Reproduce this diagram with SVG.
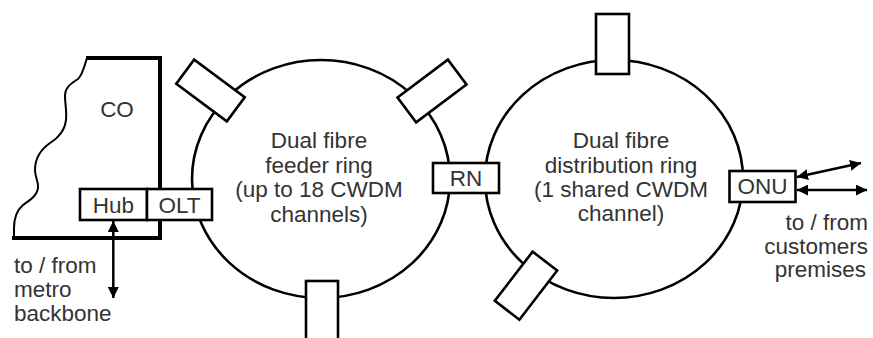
<svg xmlns="http://www.w3.org/2000/svg" width="873" height="338" viewBox="0 0 873 338">
<style>
.ring{fill:none;stroke:#000;stroke-width:2.6}
.box{fill:#fff;stroke:#000;stroke-width:2.6}
.t{font-family:"Liberation Sans",Arial,sans-serif;font-size:22.5px;fill:#333}
.c{text-anchor:middle}
.e{text-anchor:end}
.arr{fill:none;stroke:#000;stroke-width:2.5;marker-start:url(#ah);marker-end:url(#ah)}
</style>
<defs>
<marker id="ah" markerUnits="userSpaceOnUse" markerWidth="12" markerHeight="11" refX="11" refY="5.5" orient="auto-start-reverse">
<path d="M0,0 L11,5.5 L0,11 z" fill="#000"/>
</marker>
</defs>
<rect width="873" height="338" fill="#fff"/>

<g id="co">
<path d="M87,58 C84,68 82,76 78,79 C70,84 65,88 65,96 C65,104 67,112 66,120 C65,130 58,138 50,143 C40,150 35,158 35,170 C35,178 39,182 38,188 C37,196 30,200 23,205 C16,211 14,218 14,228 L14,238" fill="none" stroke="#000" stroke-width="2"/>
<path d="M86,58 H160 V238 H12" fill="none" stroke="#000" stroke-width="4"/>
<text class="t c" x="117" y="117">CO</text>
</g>

<g id="feeder-ring">
<ellipse class="ring" cx="321" cy="179" rx="129" ry="119"/>
<text class="t c" x="319" y="148">Dual fibre</text>
<text class="t c" x="319" y="172.5">feeder ring</text>
<text class="t c" x="319" y="197">(up to 18 CWDM</text>
<text class="t c" x="319" y="221.5">channels)</text>
</g>

<g id="distribution-ring">
<ellipse class="ring" cx="614" cy="179" rx="129" ry="119"/>
<text class="t c" x="621" y="148">Dual fibre</text>
<text class="t c" x="621" y="172.5">distribution ring</text>
<text class="t c" x="621" y="197">(1 shared CWDM</text>
<text class="t c" x="621" y="221">channel)</text>
</g>

<g id="node-feeder-upper-left">
<rect class="box" x="-31.5" y="-15" width="63" height="30" transform="translate(210.5,90.5) rotate(36.6)"/>
</g>
<g id="node-feeder-upper-right">
<rect class="box" x="-31.5" y="-15.5" width="63" height="31" transform="translate(432,91) rotate(-36.9)"/>
</g>
<g id="node-feeder-bottom">
<rect class="box" x="306" y="281" width="32" height="62"/>
</g>
<g id="node-dist-top">
<rect class="box" x="596" y="14" width="33" height="60"/>
</g>
<g id="node-dist-bottom-left">
<rect class="box" x="-31" y="-15.5" width="62" height="31" transform="translate(526,285.7) rotate(-52.4)"/>
</g>

<g id="hub">
<rect class="box" x="80" y="189" width="67" height="31"/>
<text class="t c" x="113.5" y="212.5">Hub</text>
</g>
<g id="olt">
<rect class="box" x="147" y="189" width="65" height="31"/>
<text class="t c" x="179.5" y="212.5">OLT</text>
</g>
<g id="rn">
<rect class="box" x="433" y="163" width="66" height="30"/>
<text class="t c" x="466" y="185.5">RN</text>
</g>
<g id="onu">
<rect class="box" x="729.5" y="171" width="66" height="31"/>
<text class="t c" x="762.5" y="194">ONU</text>
</g>

<g id="connectors">
<line class="arr" x1="113.3" y1="221" x2="113.3" y2="298"/>
<line class="arr" x1="797" y1="177" x2="861" y2="163"/>
<line class="arr" x1="797" y1="190" x2="867" y2="190"/>
</g>

<g id="labels">
<text class="t" x="14" y="273">to / from</text>
<text class="t" x="14" y="297">metro</text>
<text class="t" x="14" y="321">backbone</text>
<text class="t e" x="868" y="230">to / from</text>
<text class="t e" x="868" y="253.5">customers</text>
<text class="t e" x="866" y="277">premises</text>
</g>
</svg>
